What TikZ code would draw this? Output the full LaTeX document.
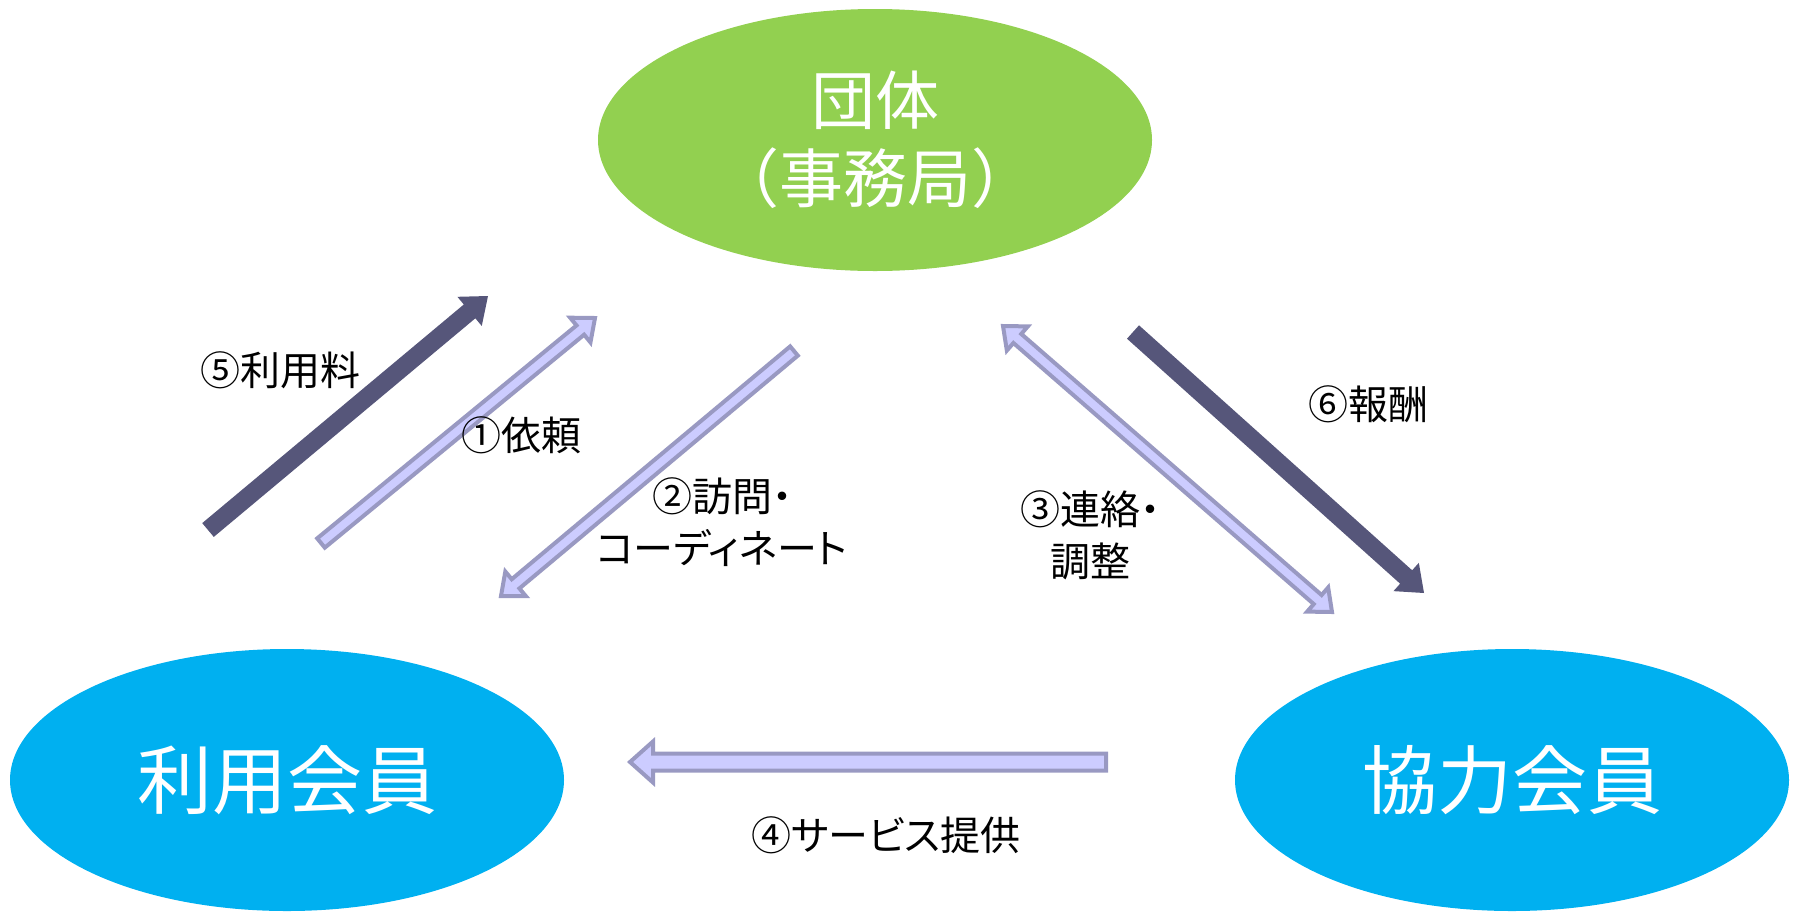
\documentclass[tikz,border=0pt]{standalone}
\usepackage{fontspec}
\setmainfont{Noto Sans CJK JP}
\newfontfamily\lblfont[RawFeature=+palt]{Noto Sans CJK JP}
\usetikzlibrary{shapes.geometric,calc}
\definecolor{hubgreen}{RGB}{146,208,80}
\definecolor{memblue}{RGB}{0,176,240}
\definecolor{arrdark}{RGB}{86,86,122}
\definecolor{arrfill}{RGB}{204,204,255}
\definecolor{arrline}{RGB}{153,153,194}
\tikzset{
  bubble/.style={ellipse, minimum width=554pt, minimum height=262pt, inner sep=0pt, text=white, align=center},
  lbl/.style={font=\lblfont\fontsize{40}{52}\selectfont, text=black, align=center, inner sep=0pt},
  darkarr/.style={fill=arrdark, draw=none},
  lightarr/.style={fill=arrfill, draw=arrline, line width=4pt, line join=miter},
}
\newcommand\blkarrow[6]{%
  \coordinate (bkN) at ($(#3)!#6!(#2)$);
  \path[#1] ($(#2)!#4!90:(#3)$) -- ($(bkN)!#4!90:(#3)$) -- ($(bkN)!#5!90:(#3)$) -- (#3)
    -- ($(bkN)!#5!-90:(#3)$) -- ($(bkN)!#4!-90:(#3)$) -- ($(#2)!#4!-90:(#3)$) -- cycle;
}
\newcommand\blkdarrow[6]{%
  \coordinate (bkA) at ($(#2)!#6!(#3)$);
  \coordinate (bkB) at ($(#3)!#6!(#2)$);
  \path[#1] (#2) -- ($(bkA)!#5!90:(#3)$) -- ($(bkA)!#4!90:(#3)$) -- ($(bkB)!#4!90:(#3)$)
    -- ($(bkB)!#5!90:(#3)$) -- (#3) -- ($(bkB)!#5!-90:(#3)$) -- ($(bkB)!#4!-90:(#3)$)
    -- ($(bkA)!#4!-90:(#3)$) -- ($(bkA)!#5!-90:(#3)$) -- cycle;
}
\begin{document}
\begin{tikzpicture}[x=1pt,y=-1pt]
\useasboundingbox (0,0) rectangle (1793,911);
% bubbles
\node[bubble, fill=hubgreen, font=\fontsize{64}{78}\selectfont] (hub) at (875,140) {団体\\（事務局）};
\node[bubble, fill=memblue, font=\fontsize{75}{90}\selectfont] (user) at (287,780) {利用会員};
\node[bubble, fill=memblue, font=\fontsize{75}{90}\selectfont] (helper) at (1512,780) {協力会員};
% arrow end points
\coordinate (a5t) at (208,530); \coordinate (a5h) at (488,296);
\coordinate (a1t) at (321,543); \coordinate (a1h) at (595,318);
\coordinate (a2t) at (794,351); \coordinate (a2h) at (501,596);
\coordinate (a3a) at (1003,326); \coordinate (a3b) at (1332,612);
\coordinate (a6t) at (1133,332); \coordinate (a6h) at (1424,593);
\coordinate (a4t) at (1106,762); \coordinate (a4h) at (630,762);
% arrows
\blkarrow{darkarr}{a5t}{a5h}{9pt}{19pt}{24pt}
\blkarrow{lightarr}{a1t}{a1h}{6pt}{16pt}{19pt}
\blkarrow{lightarr}{a2t}{a2h}{6pt}{16pt}{19pt}
\blkdarrow{lightarr}{a3a}{a3b}{6pt}{16pt}{19pt}
\blkarrow{darkarr}{a6t}{a6h}{9pt}{19pt}{24pt}
\blkarrow{lightarr}{a4t}{a4h}{8.5pt}{20.5pt}{23pt}
% labels
\node[lbl] (l5) at (280,370) {⑤利用料};
\node[lbl] (l1) at (521,435) {①依頼};
\node[lbl] (l2) at (722,522) {②訪問・\\コーディネート};
\node[lbl] (l3) at (1090,535) {③連絡・\\調整};
\node[lbl] (l6) at (1368,404) {⑥報酬};
\node[lbl] (l4) at (886,835) {④サービス提供};
\end{tikzpicture}
\end{document}
